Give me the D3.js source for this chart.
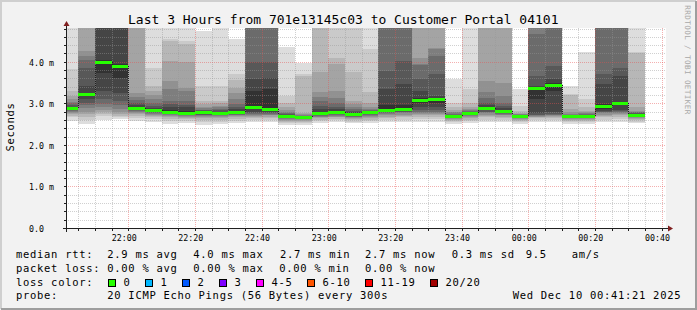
<!DOCTYPE html>
<html>
<head>
<meta charset="utf-8">
<script src="https://cdn.jsdelivr.net/npm/d3@7"></script>
<style>
  body { margin: 0; background: #f2f2f2; }
  svg text { font-family: "DejaVu Sans Mono", monospace; fill: #000; }
</style>
</head>
<body>
<svg id="chart" width="697" height="310"></svg>
<script>
// --- data ---
// end time of each 5 min step
const barEnds = ["21:45","21:50","21:55","22:00","22:05","22:10","22:15","22:20","22:25","22:30",
  "22:35","22:40","22:45","22:50","22:55","23:00","23:05","23:10","23:15","23:20",
  "23:25","23:30","23:35","23:40","23:45","23:50","23:55","00:00","00:05","00:10",
  "00:15","00:20","00:25","00:30","00:35"];

// median rtt per step (ms)
const medians = [2.89, 3.22, 3.99, 3.91, 2.89, 2.83, 2.78, 2.77, 2.78, 2.77,
  2.79, 2.91, 2.86, 2.70, 2.66, 2.76, 2.79, 2.75, 2.79, 2.84,
  2.86, 3.08, 3.11, 2.70, 2.77, 2.88, 2.81, 2.69, 3.36, 3.45,
  2.69, 2.69, 2.94, 3.01, 2.73];

// the 20 sorted pings of each step (ms)
const pings = [
  [2.58,2.66,2.70,2.74,2.77,2.80,2.82,2.84,2.86,2.88,2.90,2.92,2.96,3.00,3.04,3.10,3.18,3.30,3.82,5.6],
  [2.50,2.60,2.66,2.74,2.80,2.88,2.95,3.02,3.10,3.18,3.26,3.42,3.86,4.04,4.14,4.27,5.2,5.6,6.1,7.0],
  [2.60,2.70,2.74,2.78,2.84,2.90,2.98,3.10,3.30,3.72,4.05,5.0,5.2,5.4,5.6,5.9,6.3,6.8,7.5,8.4],
  [2.62,2.66,2.70,2.74,2.80,2.87,2.95,3.05,3.25,3.60,3.95,4.9,5.1,5.3,5.6,5.9,6.2,6.7,7.3,8.1],
  [2.58,2.65,2.70,2.74,2.77,2.80,2.82,2.84,2.86,2.88,2.92,2.96,3.02,3.08,3.15,3.24,4.9,5.3,5.8,6.6],
  [2.56,2.62,2.66,2.70,2.72,2.74,2.76,2.78,2.80,2.82,2.85,2.88,2.93,3.00,3.10,3.20,3.30,3.42,3.86,5.3],
  [2.50,2.57,2.63,2.67,2.70,2.72,2.74,2.76,2.78,2.80,2.84,2.90,2.98,3.06,3.34,3.54,4.02,4.50,4.55,5.4],
  [2.52,2.58,2.62,2.65,2.68,2.70,2.72,2.74,2.76,2.78,2.82,2.90,2.96,3.05,3.30,3.38,4.00,4.42,4.50,5.3],
  [2.48,2.55,2.60,2.64,2.67,2.69,2.71,2.73,2.75,2.77,2.79,2.81,2.83,2.85,2.88,2.92,2.98,3.06,3.42,4.74],
  [2.50,2.56,2.61,2.65,2.68,2.70,2.72,2.74,2.75,2.76,2.78,2.80,2.83,2.86,2.90,2.94,3.00,3.06,3.42,5.1],
  [2.52,2.57,2.62,2.66,2.69,2.71,2.73,2.75,2.77,2.79,2.82,2.86,2.92,2.98,3.10,3.25,3.38,3.55,3.70,4.55],
  [2.55,2.60,2.64,2.67,2.70,2.72,2.74,2.76,2.80,2.86,3.30,3.58,3.99,5.0,5.2,5.5,5.9,6.4,7.1,8.0],
  [2.55,2.60,2.65,2.68,2.71,2.73,2.75,2.77,2.80,2.84,3.35,3.62,3.99,4.9,5.2,5.5,5.8,6.3,7.0,7.9],
  [2.48,2.53,2.56,2.58,2.60,2.62,2.64,2.66,2.67,2.69,2.71,2.73,2.75,2.77,2.80,2.84,2.92,3.02,3.18,4.35],
  [2.48,2.53,2.56,2.58,2.60,2.62,2.63,2.64,2.65,2.66,2.67,2.68,2.69,2.70,2.72,2.74,2.76,3.66,3.70,3.96],
  [2.52,2.57,2.61,2.64,2.66,2.68,2.70,2.72,2.74,2.76,2.80,2.86,2.93,3.05,3.15,3.27,3.75,5.0,5.5,6.2],
  [2.54,2.59,2.63,2.66,2.68,2.70,2.72,2.74,2.76,2.78,2.82,2.86,2.92,3.02,3.12,3.30,3.95,4.10,5.1,5.8],
  [2.52,2.56,2.59,2.62,2.64,2.66,2.68,2.70,2.72,2.74,2.77,2.79,2.82,2.86,2.92,2.98,3.06,3.75,5.0,5.7],
  [2.52,2.57,2.61,2.65,2.68,2.70,2.72,2.74,2.76,2.77,2.79,2.80,2.81,2.83,2.86,2.92,3.02,3.27,4.31,5.2],
  [2.55,2.60,2.65,2.68,2.71,2.74,2.76,2.78,2.80,2.82,2.95,3.34,3.78,4.9,5.2,5.5,5.9,6.4,7.0,7.8],
  [2.55,2.61,2.66,2.70,2.73,2.76,2.78,2.80,2.82,2.84,2.95,3.46,4.02,5.0,5.3,5.6,6.0,6.5,7.1,8.0],
  [2.56,2.62,2.68,2.72,2.75,2.77,2.80,2.84,2.90,3.00,3.12,3.30,3.58,3.92,3.95,4.10,5.0,5.4,5.9,6.7],
  [2.56,2.62,2.68,2.72,2.75,2.77,2.80,2.84,2.90,3.02,3.14,3.18,3.70,4.14,4.31,4.34,5.1,5.5,6.0,6.9],
  [2.50,2.55,2.58,2.60,2.62,2.64,2.66,2.67,2.68,2.69,2.71,2.72,2.73,2.75,2.78,2.80,2.84,2.92,3.02,3.58],
  [2.52,2.57,2.61,2.65,2.68,2.70,2.72,2.74,2.75,2.76,2.78,2.79,2.80,2.82,2.84,2.86,2.92,3.00,3.34,5.3],
  [2.55,2.61,2.66,2.70,2.73,2.76,2.78,2.80,2.83,2.86,2.90,2.96,3.02,3.12,3.27,3.54,5.1,5.6,6.2,7.0],
  [2.54,2.60,2.64,2.68,2.71,2.73,2.75,2.77,2.79,2.80,2.83,2.88,2.94,3.02,3.18,3.48,5.0,5.5,6.1,6.9],
  [2.50,2.54,2.57,2.60,2.62,2.64,2.65,2.66,2.67,2.68,2.70,2.71,2.72,2.73,2.74,2.75,2.76,2.82,2.94,3.34],
  [2.55,2.60,2.64,2.66,2.68,2.70,2.72,2.73,2.76,3.10,3.38,3.42,3.66,4.68,5.0,5.3,5.7,6.2,6.9,7.8],
  [2.55,2.60,2.64,2.67,2.69,2.71,2.72,2.74,2.78,3.30,3.48,3.58,3.90,5.0,5.3,5.6,6.0,6.5,7.2,8.1],
  [2.50,2.55,2.58,2.60,2.62,2.64,2.65,2.66,2.67,2.68,2.70,2.71,2.72,2.73,2.75,2.78,2.86,3.20,3.22,3.42],
  [2.50,2.55,2.58,2.60,2.62,2.64,2.65,2.66,2.67,2.68,2.70,2.71,2.72,2.74,2.76,2.78,2.82,2.92,3.10,4.23],
  [2.55,2.61,2.66,2.70,2.73,2.76,2.78,2.80,2.82,2.86,2.98,3.46,3.70,4.9,5.2,5.5,5.9,6.4,7.0,7.9],
  [2.56,2.62,2.67,2.71,2.74,2.77,2.79,2.81,2.84,2.96,3.04,3.66,3.86,5.0,5.3,5.6,6.0,6.5,7.1,8.0],
  [2.52,2.56,2.60,2.63,2.65,2.67,2.69,2.70,2.71,2.72,2.74,2.75,2.76,2.78,2.80,2.82,2.90,4.21,4.23,5.3]
];

const yTickValues = [0, 1, 2, 3, 4];
const yTickLabels = ["0.0", "1.0 m", "2.0 m", "3.0 m", "4.0 m"];

const lossLabels = ["0", "1", "2", "3", "4-5", "6-10", "11-19", "20/20"];
const lossColors = ["#26ff00", "#00b8ff", "#0059ff", "#7e00ff", "#ff00ff", "#ff5500", "#ff0000", "#a10000"];

const titleText = "Last 3 Hours from 701e13145c03 to Customer Portal 04101";
const legendRows = [
  ["median rtt:", "2.9 ms avg", "4.0 ms max", "2.7 ms min", "2.7 ms now", "0.3 ms sd", "9.5", "am/s"],
  ["packet loss:", "0.00 % avg", "0.00 % max", "0.00 % min", "0.00 % now"]
];
const probeText = "20 ICMP Echo Pings (56 Bytes) every 300s";
const stampText = "Wed Dec 10 00:41:21 2025";

// --- setup ---
const svg = d3.select("#chart");
const plot = { left: 66, top: 28, width: 600, height: 200 };

const tStart = new Date(2025, 11, 9, 21, 41, 21);
const tEnd = new Date(2025, 11, 10, 0, 41, 21);
const parseEnd = s => {
  const [h, m] = s.split(":").map(Number);
  return new Date(2025, 11, h < 12 ? 10 : 9, h, m);
};

const x = d3.scaleTime().domain([tStart, tEnd]).range([plot.left, plot.left + plot.width]);
const y = d3.scaleLinear().domain([0, 4.813]).range([plot.top + plot.height, plot.top]);
const px = v => Math.round(v) + 0.5;

// background + 3d frame
svg.append("rect").attr("width", 697).attr("height", 310).attr("fill", "#f2f2f2");
svg.append("rect").attr("x", plot.left).attr("y", plot.top)
  .attr("width", plot.width).attr("height", plot.height).attr("fill", "#fff");
svg.append("path").attr("d", "M1,309 V1 H696").attr("fill", "none").attr("stroke", "#cfcfcf").attr("stroke-width", 2);
svg.append("path").attr("d", "M1,309 H696 V1").attr("fill", "none").attr("stroke", "#9e9e9e").attr("stroke-width", 2);

svg.append("clipPath").attr("id", "clip").append("rect")
  .attr("x", plot.left).attr("y", plot.top).attr("width", plot.width).attr("height", plot.height);

// --- smoke ---
const bars = barEnds.map((s, i) => {
  const end = parseEnd(s);
  return { start: d3.timeMinute.offset(end, -5), end, median: medians[i], pings: pings[i] };
});

const smoke = svg.append("g").attr("clip-path", "url(#clip)").attr("shape-rendering", "crispEdges");
bars.forEach(b => {
  for (let k = 1; k <= 10; k++) {
    const lo = b.pings[k - 1], hi = b.pings[20 - k];
    const c = Math.floor(190 / 10 * (10 - k)) + 50;
    smoke.append("rect")
      .attr("x", x(b.start)).attr("width", x(b.end) - x(b.start))
      .attr("y", y(hi)).attr("height", y(lo) - y(hi))
      .attr("fill", d3.rgb(c, c, c));
  }
});

// --- grid (drawn over the smoke like rrdtool) ---
const grid = svg.append("g").attr("shape-rendering", "crispEdges");
const minorT = x.ticks(d3.timeMinute.every(5)).filter(t => t.getMinutes() % 20 !== 0);
const majorT = x.ticks(d3.timeMinute.every(20));
const minorV = d3.range(1, 25).map(i => i / 5).filter(v => v % 1 !== 0 && v < 4.81);
const majorV = yTickValues.filter(v => v > 0);

const gridMinor = "rgba(150,150,150,0.45)", gridMajor = "rgba(230,80,80,0.45)";
minorT.forEach(t => grid.append("line").attr("x1", px(x(t))).attr("x2", px(x(t)))
  .attr("y1", plot.top).attr("y2", plot.top + plot.height)
  .attr("stroke", gridMinor).attr("stroke-dasharray", "1,1"));
minorV.forEach(v => grid.append("line").attr("y1", px(y(v))).attr("y2", px(y(v)))
  .attr("x1", plot.left).attr("x2", plot.left + plot.width)
  .attr("stroke", gridMinor).attr("stroke-dasharray", "1,1"));
majorT.forEach(t => grid.append("line").attr("x1", px(x(t))).attr("x2", px(x(t)))
  .attr("y1", plot.top).attr("y2", plot.top + plot.height)
  .attr("stroke", gridMajor).attr("stroke-dasharray", "1,1"));
majorV.forEach(v => grid.append("line").attr("y1", px(y(v))).attr("y2", px(y(v)))
  .attr("x1", plot.left).attr("x2", plot.left + plot.width)
  .attr("stroke", gridMajor).attr("stroke-dasharray", "1,1"));

// --- median line ---
const med = svg.append("g").attr("clip-path", "url(#clip)").attr("shape-rendering", "crispEdges");
bars.forEach((b, i) => {
  if (i > 0) {
    const xe = px(x(bars[i - 1].end));
    med.append("line").attr("x1", xe).attr("x2", xe)
      .attr("y1", y(bars[i - 1].median)).attr("y2", y(b.median))
      .attr("stroke", "#202020").attr("stroke-dasharray", "1,1");
  }
  med.append("rect")
    .attr("x", x(b.start)).attr("width", x(b.end) - x(b.start))
    .attr("y", Math.round(y(b.median)) - 1).attr("height", 3)
    .attr("fill", lossColors[0]);
});

// --- axes ---
const axis = svg.append("g").attr("shape-rendering", "crispEdges");
const y0 = px(y(0));
axis.append("line").attr("x1", plot.left - 3).attr("x2", plot.left + plot.width + 2)
  .attr("y1", y0).attr("y2", y0).attr("stroke", "#1f1f1f");
axis.append("line").attr("x1", px(plot.left)).attr("x2", px(plot.left))
  .attr("y1", y0 + 3).attr("y2", plot.top - 3).attr("stroke", "#1f1f1f");
svg.append("path").attr("fill", "#801f1f")
  .attr("d", `M${plot.left + plot.width + 2},${y0 - 3} L${plot.left + plot.width + 7},${y0} L${plot.left + plot.width + 2},${y0 + 3} Z`);
svg.append("path").attr("fill", "#801f1f")
  .attr("d", `M${px(plot.left) - 3},${plot.top - 2} L${px(plot.left)},${plot.top - 7} L${px(plot.left) + 3},${plot.top - 2} Z`);

minorT.concat(majorT).forEach(t => axis.append("line")
  .attr("x1", px(x(t))).attr("x2", px(x(t))).attr("y1", y0).attr("y2", y0 + 2).attr("stroke", "#1f1f1f"));
minorV.concat(majorV).forEach(v => axis.append("line")
  .attr("y1", px(y(v))).attr("y2", px(y(v))).attr("x1", plot.left - 2).attr("x2", plot.left).attr("stroke", "#1f1f1f"));

const fmt = d3.timeFormat("%H:%M");
majorT.forEach(t => svg.append("text")
  .attr("x", x(t) - 4).attr("y", 241).attr("text-anchor", "middle")
  .style("font-size", "8.3px").text(fmt(t)));
yTickValues.forEach((v, i) => svg.append("text")
  .attr("x", 29).attr("y", Math.round(y(v)) + 3.5)
  .style("font-size", "8.3px").text(yTickLabels[i]));

// --- titles ---
svg.append("text").attr("x", 128).attr("y", 24).style("font-size", "13px").text(titleText);
svg.append("text").attr("transform", "translate(14,127) rotate(-90)").attr("text-anchor", "middle")
  .style("font-size", "10.5px").style("letter-spacing", "0.7px").text("Seconds");
svg.append("text").attr("transform", "translate(685,60) rotate(90)").attr("text-anchor", "middle")
  .style("font-size", "7.6px").style("letter-spacing", "0.4px").style("fill", "#a8a8a8")
  .text("RRDTOOL / TOBI OETIKER");

// --- legend ---
const leg = (txt, lx, ly) => svg.append("text").attr("x", lx).attr("y", ly)
  .style("font-size", "10.5px").style("letter-spacing", "0.7px").text(txt);
const row1X = [16, 107.3, 193.3, 280, 365, 451.7, 525.7, 571.7];
const row2X = [16, 107.3, 193.3, 279.3, 365];
legendRows[0].forEach((t, i) => leg(t, row1X[i], 258));
legendRows[1].forEach((t, i) => leg(t, row2X[i], 271.7));
leg("loss color:", 16, 285.5);
const boxX = [108.5, 145.5, 182.5, 219.5, 256.5, 307.5, 365.5, 430.5];
lossLabels.forEach((l, i) => {
  svg.append("rect").attr("x", boxX[i]).attr("y", 279.5).attr("width", 7).attr("height", 7)
    .attr("fill", lossColors[i]).attr("stroke", "#000").attr("shape-rendering", "crispEdges");
  leg(l, boxX[i] + 15, 285.5);
});
leg("probe:", 16, 299.3);
leg(probeText, 107.3, 299.3);
leg(stampText, 512.7, 299.3);
</script>
</body>
</html>
